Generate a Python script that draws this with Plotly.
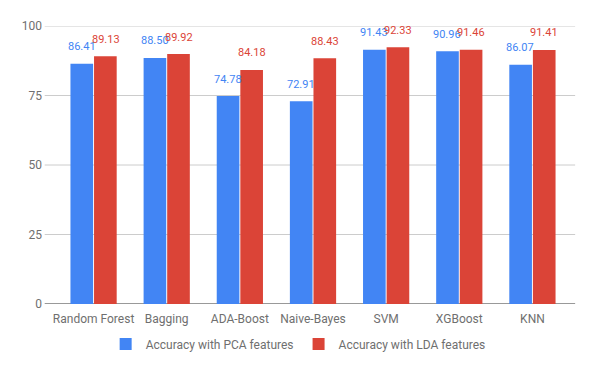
import plotly.graph_objects as go

categories = ["Random Forest", "Bagging", "ADA-Boost", "Naive-Bayes", "SVM", "XGBoost", "KNN"]
pca_values = [86.41, 88.50, 74.78, 72.91, 91.43, 90.96, 86.07]
lda_values = [89.13, 89.92, 84.18, 88.43, 92.33, 91.46, 91.41]
pca_name = "Accuracy with PCA features"
lda_name = "Accuracy with LDA features"
y_ticks = [0, 25, 50, 75, 100]

BLUE = "#4285F4"
RED = "#DB4437"
FONT = "Roboto, Arial, sans-serif"
TXT = "#6f6f6f"

fig = go.Figure()
fig.add_trace(go.Bar(x=categories, y=pca_values, name=pca_name, marker=dict(color=BLUE, line=dict(width=0))))
fig.add_trace(go.Bar(x=categories, y=lda_values, name=lda_name, marker=dict(color=RED, line=dict(width=0))))

# data labels
for vals, col, shift in [(pca_values, BLUE, -12), (lda_values, RED, 12)]:
    for c, v in zip(categories, vals):
        fig.add_annotation(x=c, y=v, text=f"{v:.2f}", showarrow=False, xshift=shift, yshift=17,
                           font=dict(family=FONT, size=11, color=col), xref="x", yref="y")

# gridlines extending beyond plot area
for t in y_ticks:
    fig.add_shape(type="line", xref="paper", yref="y", x0=-0.024, x1=1.012, y0=t, y1=t,
                  line=dict(color="#333333" if t == 0 else "#cccccc", width=1), layer="below")

fig.update_layout(
    width=600, height=371,
    margin=dict(l=57, r=31, t=26, b=67, autoexpand=False),
    paper_bgcolor="white", plot_bgcolor="white",
    barmode="group", bargap=0.355, bargroupgap=0.04,
    font=dict(family=FONT, size=12, color=TXT),
    showlegend=True,
    legend=dict(orientation="h", x=0.471, xanchor="center", yref="container", y=0.073, yanchor="middle",
                font=dict(family=FONT, size=12, color=TXT), itemwidth=30,
                traceorder="normal"),
    xaxis=dict(showgrid=False, showline=False, ticks="", ticklabelstandoff=6,
               tickfont=dict(size=12, color=TXT)),
    yaxis=dict(range=[0, 100], tickvals=y_ticks, showgrid=False, zeroline=False, showline=False,
               ticks="", ticklabelstandoff=14, tickfont=dict(size=12, color=TXT)),
)

fig.write_html("out.html", config={"displayModeBar": False},
               post_script="document.body.style.margin='0';document.body.style.padding='0';")
